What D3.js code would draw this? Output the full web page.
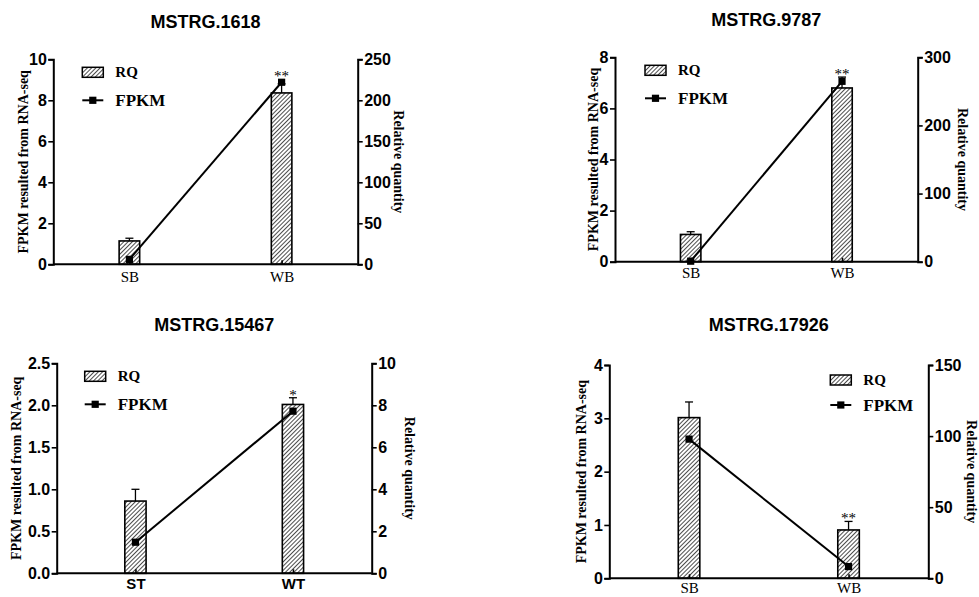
<!DOCTYPE html>
<html>
<head>
<meta charset="utf-8">
<script src="https://cdn.jsdelivr.net/npm/d3@7"></script>
<style>
  html, body { margin: 0; padding: 0; background: #fff; }
  svg { display: block; }
</style>
</head>
<body>
<svg id="chart" width="979" height="597"></svg>
<script>
// ---- data ----
const titles = ["MSTRG.1618", "MSTRG.9787", "MSTRG.15467", "MSTRG.17926"];
const categories = [["SB", "WB"], ["SB", "WB"], ["ST", "WT"], ["SB", "WB"]];
// FPKM from RNA-seq (left axis, line)
const fpkmValues = [[0.24, 8.88], [0.02, 7.06], [0.37, 1.93], [2.61, 0.22]];
// qRT-PCR relative quantity (right axis, bars) and its SD
const rqValues = [[28.5, 209], [40, 255], [3.44, 8.04], [113, 34]];
const rqErrors = [[3.3, 11], [4, 16], [0.56, 0.32], [11, 6]];
const significance = [["", "**"], ["", "**"], ["", "*"], ["", "**"]];
// axis extents and tick steps
const leftMax = [10, 8, 2.5, 4];
const leftStep = [2, 2, 0.5, 1];
const rightMax = [250, 300, 10, 150];
const rightStep = [50, 100, 2, 50];
const leftFormat = ["d", "d", ".1f", "d"];

// ---- panel layout ----
const layout = [
  { axL: 53.3, axR: 357.7, top: 59.3, bottom: 264.3, titleY: 22, lLab: 30, rLab: 40.6, legX: 29, legY: 13, legRight: false, sansCats: false, catPad: 7 },
  { axL: 615, axR: 917.7, top: 57.3, bottom: 261.7, titleY: 20, lLab: 22, rLab: 45, legX: 30, legY: 13, legRight: false, sansCats: false, catPad: 6 },
  { axL: 56.7, axR: 371.7, top: 363.3, bottom: 573.3, titleY: 325, lLab: 40, rLab: 38, legX: 28, legY: 13, legRight: false, sansCats: true, catPad: 5 },
  { axL: 609.3, axR: 928.3, top: 365, bottom: 578.3, titleY: 325, lLab: 28, rLab: 43, legX: 221, legY: 15, legRight: true, sansCats: false, catPad: 4.5 }
];

const svg = d3.select("#chart");
const SANS = "'Liberation Sans', Arial, sans-serif";
const SERIF = "'Liberation Serif', 'Times New Roman', serif";

// diagonal hatch used for the RQ bars
const defs = svg.append("defs");
defs.append("pattern")
  .attr("id", "hatch")
  .attr("patternUnits", "userSpaceOnUse")
  .attr("width", 3).attr("height", 3)
  .attr("patternTransform", "rotate(45)")
  .append("line")
  .attr("x1", 0).attr("y1", 0).attr("x2", 0).attr("y2", 3)
  .attr("stroke", "#000").attr("stroke-width", 1.4);

titles.forEach((title, i) => {
  const L = layout[i];
  const g = svg.append("g");

  const x = d3.scalePoint().domain(categories[i]).range([L.axL, L.axR]).padding(0.5);
  const yL = d3.scaleLinear().domain([0, leftMax[i]]).range([L.bottom, L.top]);
  const yR = d3.scaleLinear().domain([0, rightMax[i]]).range([L.bottom, L.top]);
  const barW = x.step() * 0.135;

  // title
  g.append("text")
    .attr("x", (L.axL + L.axR) / 2).attr("y", L.titleY)
    .attr("text-anchor", "middle").attr("dominant-baseline", "central")
    .attr("fill", "#000")
    .style("font-family", SANS).style("font-weight", "bold").style("font-size", "18px")
    .text(title);

  const rows = categories[i].map((c, k) => ({
    cat: c, rq: rqValues[i][k], err: rqErrors[i][k], fpkm: fpkmValues[i][k], sig: significance[i][k]
  }));

  // error bars (upper half)
  const eb = g.append("g").attr("stroke", "#000").attr("stroke-width", 1.3);
  rows.forEach(d => {
    const cx = x(d.cat);
    eb.append("line").attr("x1", cx).attr("x2", cx)
      .attr("y1", yR(d.rq)).attr("y2", yR(d.rq + d.err));
    eb.append("line").attr("x1", cx - 4).attr("x2", cx + 4)
      .attr("y1", yR(d.rq + d.err)).attr("y2", yR(d.rq + d.err));
  });

  // bars (RQ, right axis)
  g.append("g").selectAll("rect").data(rows).join("rect")
    .attr("x", d => x(d.cat) - barW / 2)
    .attr("y", d => yR(d.rq))
    .attr("width", barW)
    .attr("height", d => yR(0) - yR(d.rq))
    .attr("fill", "url(#hatch)")
    .attr("stroke", "#000").attr("stroke-width", 1.6);

  // FPKM line + square markers (left axis)
  const line = d3.line().x(d => x(d.cat)).y(d => yL(d.fpkm));
  g.append("path").datum(rows)
    .attr("d", line).attr("fill", "none")
    .attr("stroke", "#000").attr("stroke-width", 2);
  g.append("g").selectAll("rect").data(rows).join("rect")
    .attr("x", d => x(d.cat) - 3.6).attr("y", d => yL(d.fpkm) - 3.6)
    .attr("width", 7.2).attr("height", 7.2).attr("fill", "#000");

  // significance marks above the highest element at each category
  g.append("g").selectAll("text").data(rows.filter(d => d.sig)).join("text")
    .attr("x", d => x(d.cat))
    .attr("y", d => Math.min(yR(d.rq + d.err), yL(d.fpkm) - 3.6) + 2)
    .attr("text-anchor", "middle")
    .attr("fill", "#000")
    .style("font-family", SERIF).style("font-size", "15px")
    .text(d => d.sig);

  // axes
  const styleAxis = (sel) => {
    sel.select(".domain").attr("stroke-width", 2);
    sel.selectAll(".tick line").attr("stroke-width", 1.6);
  };
  const tickText = (sel) => sel.selectAll("text")
    .style("font-family", SANS).style("font-weight", "bold").style("font-size", "16px").attr("fill", "#000");
  const leftTicks = d3.range(0, leftMax[i] + 1e-9, leftStep[i]);
  const rightTicks = d3.range(0, rightMax[i] + 1e-9, rightStep[i]);

  g.append("g").attr("transform", `translate(${L.axL},0)`)
    .call(d3.axisLeft(yL).tickValues(leftTicks).tickFormat(d3.format(leftFormat[i])).tickSizeInner(5).tickSizeOuter(5).tickPadding(1.5))
    .call(styleAxis).call(tickText);

  g.append("g").attr("transform", `translate(${L.axR},0)`)
    .call(d3.axisRight(yR).tickValues(rightTicks).tickSizeInner(5).tickSizeOuter(5).tickPadding(1.5))
    .call(styleAxis).call(tickText);

  g.append("g").attr("transform", `translate(0,${L.bottom})`)
    .call(d3.axisBottom(x).tickSizeInner(-4).tickSizeOuter(0).tickPadding(L.catPad))
    .call(styleAxis)
    .call(s => s.select(".domain").attr("d", `M${L.axL},0H${L.axR}`))
    .call(s => s.selectAll("text")
      .style("font-family", L.sansCats ? SANS : SERIF)
      .style("font-weight", L.sansCats ? "bold" : "normal")
      .style("font-size", "15px").attr("fill", "#000"));

  // axis titles
  g.append("text")
    .attr("transform", `translate(${L.axL - L.lLab},${(L.top + L.bottom) / 2}) rotate(-90)`)
    .attr("text-anchor", "middle").attr("dominant-baseline", "central")
    .attr("fill", "#000")
    .style("font-family", SERIF).style("font-weight", "bold").style("font-size", "14px")
    .text("FPKM resulted from RNA-seq");
  g.append("text")
    .attr("transform", `translate(${L.axR + L.rLab},${(L.top + L.bottom) / 2}) rotate(90)`)
    .attr("text-anchor", "middle").attr("dominant-baseline", "central")
    .attr("fill", "#000")
    .style("font-family", SERIF).style("font-weight", "bold").style("font-size", "14px")
    .text("Relative quantity");

  // legend
  const lg = g.append("g").attr("transform", `translate(${L.axL + L.legX},${L.top + L.legY})`);
  lg.append("rect").attr("x", 0).attr("y", -5).attr("width", 21).attr("height", 10)
    .attr("fill", "url(#hatch)").attr("stroke", "#000").attr("stroke-width", 1.5);
  lg.append("text").attr("x", 33).attr("y", 0).attr("dominant-baseline", "central")
    .attr("fill", "#000")
    .style("font-family", SERIF).style("font-weight", "bold").style("font-size", "15px")
    .text("RQ");
  const rowGap = L.legRight ? 25 : 28;
  lg.append("line").attr("x1", 0).attr("x2", 21).attr("y1", rowGap).attr("y2", rowGap)
    .attr("stroke", "#000").attr("stroke-width", 2);
  lg.append("rect").attr("x", 10.5 - 3.6).attr("y", rowGap - 3.6).attr("width", 7.2).attr("height", 7.2).attr("fill", "#000");
  lg.append("text").attr("x", 33).attr("y", rowGap).attr("dominant-baseline", "central")
    .attr("fill", "#000")
    .style("font-family", SERIF).style("font-weight", "bold").style("font-size", "17px")
    .text("FPKM");
});
</script>
</body>
</html>
